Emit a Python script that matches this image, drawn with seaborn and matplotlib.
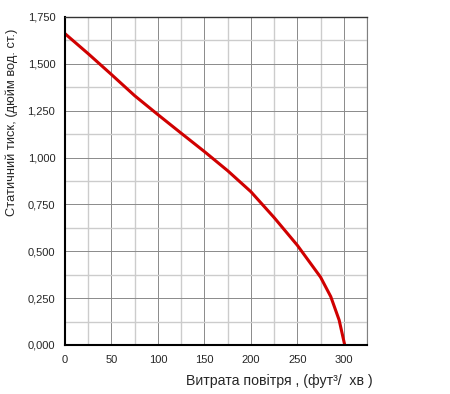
import numpy as np
import pandas as pd
import matplotlib
matplotlib.use("Agg")
import matplotlib.pyplot as plt
import seaborn as sns
from matplotlib.ticker import FuncFormatter, MultipleLocator

# Fan curve
airflow = [0, 25, 50, 75, 100, 125, 150, 175, 200, 225, 250, 275, 286, 295, 301]
pressure = [1.661, 1.554, 1.443, 1.33, 1.229, 1.13, 1.032, 0.93, 0.818, 0.68, 0.532, 0.362, 0.258, 0.133, 0.0]

x_ticks = [0, 50, 100, 150, 200, 250, 300]
y_ticks = [0, 0.25, 0.5, 0.75, 1.0, 1.25, 1.5, 1.75]

df = pd.DataFrame({"airflow": airflow, "pressure": pressure})

sns.set_style("white")
plt.rcParams['font.family'] = ['Liberation Sans', 'DejaVu Sans']

fig = plt.figure(figsize=(4.5, 3.94), dpi=100)
ax = fig.add_axes([0.1444, 0.1244, 0.6712, 0.8325])

sns.lineplot(data=df, x="airflow", y="pressure", ax=ax, color="#d00000", linewidth=2.2)

ax.set_xlim(0, 325)
ax.set_ylim(0, 1.75)
ax.set_xticks(x_ticks)
ax.set_yticks(y_ticks)
ax.xaxis.set_minor_locator(MultipleLocator(25))
ax.yaxis.set_minor_locator(MultipleLocator(0.125))
ax.grid(which="major", color="#8a8a8a", linewidth=0.7)
ax.grid(which="minor", color="#cccccc", linewidth=1.0)
ax.set_axisbelow(True)

ax.yaxis.set_major_formatter(FuncFormatter(lambda v, p: f"{v:.3f}".replace(".", ",")))
ax.tick_params(axis="both", which="both", length=0, labelsize=8, pad=7)

for s in ["left", "bottom"]:
    ax.spines[s].set_color("black")
    ax.spines[s].set_linewidth(1.5)
ax.spines["top"].set_color("#333333")
ax.spines["top"].set_linewidth(1.0)
ax.spines["right"].set_color("#808080")
ax.spines["right"].set_linewidth(0.8)

ax.set_xlabel("")
ax.set_ylabel("")
fig.text(0.027, 0.69, "Статичний тиск, (дюйм вод. ст.)", fontsize=9.3,
         rotation=90, ha="center", va="center")
fig.text(0.827, 0.015, "Витрата повітря , (фут³/  хв )", fontsize=10.2, ha="right", va="bottom")

fig.savefig("out.png", dpi=100)
